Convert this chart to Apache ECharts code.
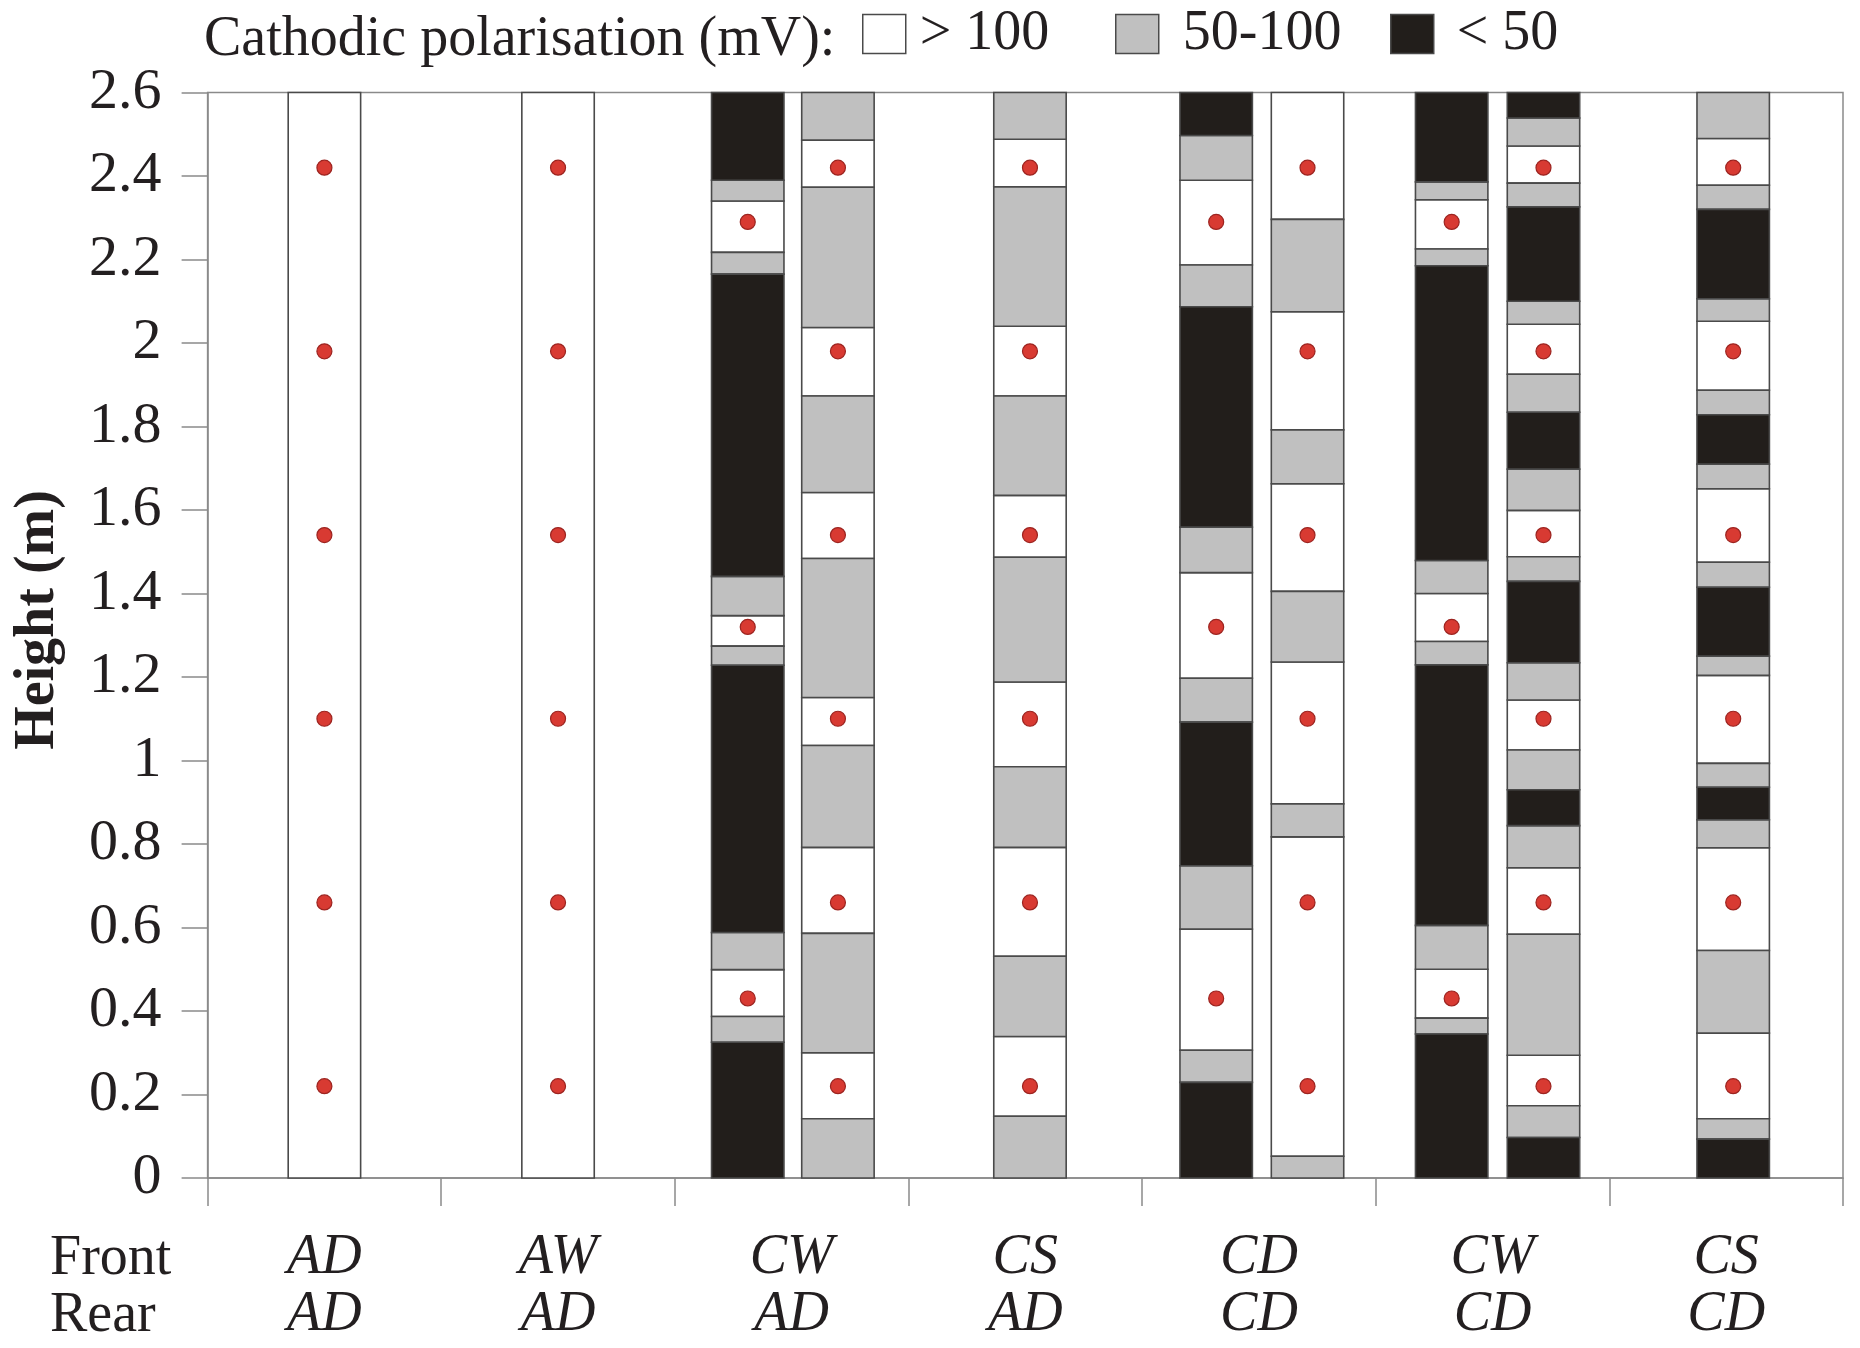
<!DOCTYPE html>
<html>
<head>
<meta charset="utf-8">
<style>
  html, body { margin: 0; padding: 0; background: #ffffff; }
  #chart { width: 1860px; height: 1348px; }
</style>
<script src="https://cdn.jsdelivr.net/npm/echarts@6/dist/echarts.min.js"></script>
</head>
<body>
<div id="chart"></div>
<script>
// Front / rear configuration of each column along the x axis
const frontLabels = ['AD', 'AW', 'CW', 'CS', 'CD', 'CW', 'CS'];
const rearLabels  = ['AD', 'AD', 'AD', 'AD', 'CD', 'CD', 'CD'];

// Polarisation classes: W = > 100 mV, G = 50-100 mV, B = < 50 mV
const classKeys  = ['W', 'G', 'B'];
const classNames = ['> 100', '50-100', '< 50'];

// Polarisation profiles, listed from the floor upward as [class, top of band in m]
const adAdRear = [['W', 2.6]];
const awAdRear = [['W', 2.6]];
const cwAdFront = [['B', 0.325], ['G', 0.387], ['W', 0.499], ['G', 0.588], ['B', 1.228], ['G', 1.274],
                   ['W', 1.347], ['G', 1.441], ['B', 2.165], ['G', 2.217], ['W', 2.340], ['G', 2.390], ['B', 2.6]];
const cwAdRear = [['G', 0.142], ['W', 0.300], ['G', 0.586], ['W', 0.792], ['G', 1.036], ['W', 1.151],
                  ['G', 1.484], ['W', 1.642], ['G', 1.873], ['W', 2.037], ['G', 2.373], ['W', 2.486], ['G', 2.6]];
const csAdRear = [['G', 0.148], ['W', 0.339], ['G', 0.531], ['W', 0.792], ['G', 0.985], ['W', 1.188],
                  ['G', 1.487], ['W', 1.635], ['G', 1.873], ['W', 2.040], ['G', 2.374], ['W', 2.488], ['G', 2.6]];
const cdCdFront = [['B', 0.229], ['G', 0.306], ['W', 0.596], ['G', 0.748], ['B', 1.092], ['G', 1.197],
                   ['W', 1.450], ['G', 1.559], ['B', 2.087], ['G', 2.187], ['W', 2.390], ['G', 2.497], ['B', 2.6]];
const cdCdRear = [['G', 0.052], ['W', 0.817], ['G', 0.896], ['W', 1.236], ['G', 1.405], ['W', 1.663],
                  ['G', 1.792], ['W', 2.075], ['G', 2.296], ['W', 2.6]];
const cwCdFront = [['B', 0.345], ['G', 0.383], ['W', 0.500], ['G', 0.605], ['B', 1.229], ['G', 1.285],
                   ['W', 1.400], ['G', 1.479], ['B', 2.185], ['G', 2.225], ['W', 2.343], ['G', 2.386], ['B', 2.6]];
const cwCdRear = [['B', 0.097], ['G', 0.173], ['W', 0.294], ['G', 0.584], ['W', 0.743], ['G', 0.844],
                  ['B', 0.930], ['G', 1.025], ['W', 1.145], ['G', 1.234], ['B', 1.429], ['G', 1.488],
                  ['W', 1.599], ['G', 1.698], ['B', 1.834], ['G', 1.925], ['W', 2.045], ['G', 2.100],
                  ['B', 2.326], ['G', 2.383], ['W', 2.472], ['G', 2.539], ['B', 2.6]];
const csCdRear = [['B', 0.093], ['G', 0.142], ['W', 0.347], ['G', 0.545], ['W', 0.791], ['G', 0.858],
                  ['B', 0.936], ['G', 0.993], ['W', 1.204], ['G', 1.250], ['B', 1.415], ['G', 1.475],
                  ['W', 1.651], ['G', 1.710], ['B', 1.828], ['G', 1.887], ['W', 2.052], ['G', 2.106],
                  ['B', 2.320], ['G', 2.378], ['W', 2.490], ['G', 2.6]];

// Measurement heights (m) on the rear face and on the front face
const rearHeights  = [0.22, 0.66, 1.10, 1.54, 1.98, 2.42];
const frontHeights = [0.43, 1.32, 2.29];

// Profiles drawn in each column (null = no front profile)
const frontProfiles = [null, null, cwAdFront, null, cdCdFront, cwCdFront, null];
const rearProfiles  = [adAdRear, awAdRear, cwAdRear, csAdRear, cdCdRear, cwCdRear, csCdRear];

// ---- layout: bar centres as fractions of a category band from its middle ----
const BAR_WIDTH = 0.31;
const FRONT_OFFSET = [0, 0, -0.188, 0, -0.183, -0.175, 0];
const REAR_OFFSET  = [0, 0, 0.198, 0.020, 0.208, 0.218, 0.030];

const FILL = { W: '#ffffff', G: '#c0c0c0', B: '#221e1b' };
const EDGE = '#4a4a4a';
const SERIF = '"Liberation Serif", "Times New Roman", serif';
const INK = '#231f20';
const FONT_SIZE = 56;

// Build the band rectangles, one list per class, and the measurement points
const bandData = { W: [], G: [], B: [] };
const dotData = [];
function addProfile(cat, offset, profile, heights) {
  let bottom = 0;
  profile.forEach(([cls, top]) => {
    bandData[cls].push([cat, offset, bottom, top]);
    bottom = top;
  });
  heights.forEach(h => dotData.push([cat, offset, h]));
}
rearProfiles.forEach((rear, i) => {
  const front = frontProfiles[i];
  if (front) addProfile(i, FRONT_OFFSET[i], front, frontHeights);
  addProfile(i, REAR_OFFSET[i], rear, rearHeights);
});

function renderBand(params, api) {
  const cat = api.value(0), off = api.value(1);
  const band = api.size([1, 0])[0];
  const p0 = api.coord([cat, api.value(2)]);
  const p1 = api.coord([cat, api.value(3)]);
  const w = band * BAR_WIDTH;
  return {
    type: 'rect',
    shape: { x: p0[0] + off * band - w / 2, y: p1[1], width: w, height: p0[1] - p1[1] },
    style: { fill: api.visual('color'), stroke: EDGE, lineWidth: 1.6 }
  };
}

function renderDot(params, api) {
  const cat = api.value(0), off = api.value(1);
  const band = api.size([1, 0])[0];
  const p = api.coord([cat, api.value(2)]);
  return {
    type: 'circle',
    shape: { cx: p[0] + off * band, cy: p[1], r: 7.5 },
    style: { fill: '#d83a32', stroke: '#9c2420', lineWidth: 1.2 }
  };
}

const bandSeries = classKeys.map((k, i) => ({
  name: classNames[i],
  type: 'custom',
  renderItem: renderBand,
  itemStyle: { color: FILL[k], borderColor: EDGE, borderWidth: 1.6 },
  encode: { x: 0, y: [2, 3] },
  data: bandData[k],
  z: 2
}));

// One legend box per class, so each key sits at its own place in the header
const legendLeft = [857, 1110, 1385];
const legendTextGap = [9, 19, 18];
const legends = classNames.map((n, i) => ({
  data: [{ name: n, itemStyle: { color: FILL[classKeys[i]], borderColor: EDGE, borderWidth: 1.5 } }],
  icon: 'rect',
  left: legendLeft[i], top: 1,
  itemWidth: 43, itemHeight: 39,
  selectedMode: false,
  textStyle: { fontFamily: SERIF, fontSize: FONT_SIZE, color: INK, padding: [0, 0, 0, legendTextGap[i]] }
}));

const chart = echarts.init(document.getElementById('chart'), null, { renderer: 'canvas' });
chart.setOption({
  animation: false,
  backgroundColor: '#ffffff',
  grid: {
    left: 207.6, right: 17, top: 92.5, bottom: 170,
    show: true, borderColor: '#8a8a8a', borderWidth: 1.5, backgroundColor: 'transparent'
  },
  legend: legends,
  xAxis: {
    type: 'category',
    data: frontLabels.map((f, i) => f + '\n' + rearLabels[i]),
    boundaryGap: true,
    axisLine: { lineStyle: { color: '#8a8a8a', width: 1.5 } },
    axisTick: { show: true, length: 28, lineStyle: { color: '#8a8a8a', width: 1.5 } },
    axisLabel: {
      interval: 0, margin: 52,
      fontFamily: SERIF, fontStyle: 'italic', fontSize: FONT_SIZE, lineHeight: 57, color: INK
    },
    splitLine: { show: false }
  },
  yAxis: {
    type: 'value', min: 0, max: 2.6, interval: 0.2,
    axisLine: { show: true, lineStyle: { color: '#8a8a8a', width: 1.5 } },
    axisTick: { show: true, length: 26, lineStyle: { color: '#8a8a8a', width: 1.5 } },
    axisLabel: { margin: 46, fontFamily: SERIF, fontSize: 58, color: INK },
    splitLine: { show: false }
  },
  graphic: [
    { type: 'text', left: 204, top: 12,
      style: { text: 'Cathodic polarisation (mV):', font: FONT_SIZE + 'px ' + SERIF, fill: INK } },
    { type: 'text', x: 39, y: 620, rotation: Math.PI / 2,
      style: { text: 'Height (m)', font: 'bold ' + FONT_SIZE + 'px ' + SERIF, fill: INK, align: 'center', verticalAlign: 'middle' } },
    { type: 'text', x: 50, y: 1259,
      style: { text: 'Front', font: FONT_SIZE + 'px ' + SERIF, fill: INK, verticalAlign: 'middle' } },
    { type: 'text', x: 50, y: 1316,
      style: { text: 'Rear', font: FONT_SIZE + 'px ' + SERIF, fill: INK, verticalAlign: 'middle' } }
  ],
  series: bandSeries.concat([{
    name: 'measurement points',
    type: 'custom',
    renderItem: renderDot,
    encode: { x: 0, y: 2 },
    data: dotData,
    z: 5
  }])
});
</script>
</body>
</html>
